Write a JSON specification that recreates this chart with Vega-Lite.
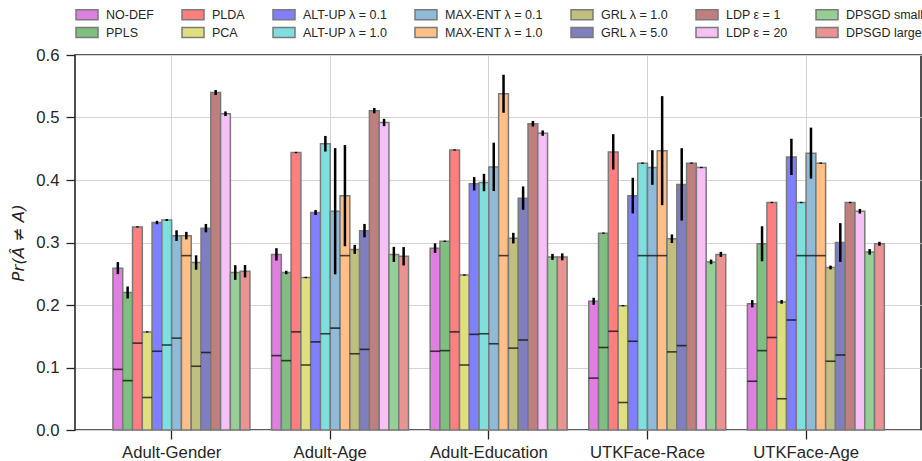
{
  "$schema": "https://vega.github.io/schema/vega-lite/v6.json",
  "width": 846,
  "height": 375,
  "autosize": {"type": "none"},
  "padding": {"left": 75, "top": 55, "right": 1, "bottom": 31},
  "background": "white",
  "data": {"values": [
    {"g":"Adult-Gender","m":"NO-DEF","v":0.259,"lo":0.2494,"hi":0.2686,"b":0.097},
    {"g":"Adult-Gender","m":"PPLS","v":0.220,"lo":0.2104,"hi":0.2296,"b":0.079},
    {"g":"Adult-Gender","m":"PLDA","v":0.325,"lo":0.324,"hi":0.326,"b":0.139},
    {"g":"Adult-Gender","m":"PCA","v":0.157,"lo":0.156,"hi":0.158,"b":0.052},
    {"g":"Adult-Gender","m":"ALT-UP λ = 0.1","v":0.332,"lo":0.3293,"hi":0.3347,"b":0.126},
    {"g":"Adult-Gender","m":"ALT-UP λ = 1.0","v":0.336,"lo":0.3345,"hi":0.3375,"b":0.136},
    {"g":"Adult-Gender","m":"MAX-ENT λ = 0.1","v":0.311,"lo":0.3025,"hi":0.3195,"b":0.147},
    {"g":"Adult-Gender","m":"MAX-ENT λ = 1.0","v":0.311,"lo":0.305,"hi":0.317,"b":0.279},
    {"g":"Adult-Gender","m":"GRL λ = 1.0","v":0.268,"lo":0.2565,"hi":0.2795,"b":0.102},
    {"g":"Adult-Gender","m":"GRL λ = 5.0","v":0.323,"lo":0.3163,"hi":0.3297,"b":0.124},
    {"g":"Adult-Gender","m":"LDP ε = 1","v":0.540,"lo":0.536,"hi":0.544,"b":null},
    {"g":"Adult-Gender","m":"LDP ε = 20","v":0.506,"lo":0.5023,"hi":0.5097,"b":null},
    {"g":"Adult-Gender","m":"DPSGD small ε","v":0.252,"lo":0.2403,"hi":0.2637,"b":null},
    {"g":"Adult-Gender","m":"DPSGD large ε","v":0.254,"lo":0.2441,"hi":0.2639,"b":null},

    {"g":"Adult-Age","m":"NO-DEF","v":0.281,"lo":0.2711,"hi":0.2909,"b":0.119},
    {"g":"Adult-Age","m":"PPLS","v":0.252,"lo":0.2493,"hi":0.2547,"b":0.111},
    {"g":"Adult-Age","m":"PLDA","v":0.444,"lo":0.443,"hi":0.445,"b":0.157},
    {"g":"Adult-Age","m":"PCA","v":0.244,"lo":0.243,"hi":0.245,"b":0.104},
    {"g":"Adult-Age","m":"ALT-UP λ = 0.1","v":0.348,"lo":0.344,"hi":0.352,"b":0.141},
    {"g":"Adult-Age","m":"ALT-UP λ = 1.0","v":0.458,"lo":0.4455,"hi":0.4705,"b":0.154},
    {"g":"Adult-Age","m":"MAX-ENT λ = 0.1","v":0.350,"lo":0.249,"hi":0.451,"b":0.163},
    {"g":"Adult-Age","m":"MAX-ENT λ = 1.0","v":0.375,"lo":0.294,"hi":0.456,"b":0.279},
    {"g":"Adult-Age","m":"GRL λ = 1.0","v":0.289,"lo":0.2818,"hi":0.2962,"b":0.122},
    {"g":"Adult-Age","m":"GRL λ = 5.0","v":0.319,"lo":0.3083,"hi":0.3297,"b":0.129},
    {"g":"Adult-Age","m":"LDP ε = 1","v":0.511,"lo":0.5067,"hi":0.5153,"b":null},
    {"g":"Adult-Age","m":"LDP ε = 20","v":0.492,"lo":0.4861,"hi":0.4979,"b":null},
    {"g":"Adult-Age","m":"DPSGD small ε","v":0.281,"lo":0.269,"hi":0.293,"b":null},
    {"g":"Adult-Age","m":"DPSGD large ε","v":0.278,"lo":0.2633,"hi":0.2927,"b":null},

    {"g":"Adult-Education","m":"NO-DEF","v":0.291,"lo":0.2833,"hi":0.2987,"b":0.126},
    {"g":"Adult-Education","m":"PPLS","v":0.302,"lo":0.301,"hi":0.303,"b":0.127},
    {"g":"Adult-Education","m":"PLDA","v":0.448,"lo":0.447,"hi":0.449,"b":0.157},
    {"g":"Adult-Education","m":"PCA","v":0.248,"lo":0.247,"hi":0.249,"b":0.104},
    {"g":"Adult-Education","m":"ALT-UP λ = 0.1","v":0.394,"lo":0.3833,"hi":0.4047,"b":0.153},
    {"g":"Adult-Education","m":"ALT-UP λ = 1.0","v":0.396,"lo":0.3821,"hi":0.4099,"b":0.154},
    {"g":"Adult-Education","m":"MAX-ENT λ = 0.1","v":0.421,"lo":0.3823,"hi":0.4597,"b":0.138},
    {"g":"Adult-Education","m":"MAX-ENT λ = 1.0","v":0.538,"lo":0.5076,"hi":0.5684,"b":0.279},
    {"g":"Adult-Education","m":"GRL λ = 1.0","v":0.307,"lo":0.2985,"hi":0.3155,"b":0.131},
    {"g":"Adult-Education","m":"GRL λ = 5.0","v":0.371,"lo":0.3523,"hi":0.3897,"b":0.144},
    {"g":"Adult-Education","m":"LDP ε = 1","v":0.490,"lo":0.4855,"hi":0.4945,"b":null},
    {"g":"Adult-Education","m":"LDP ε = 20","v":0.475,"lo":0.4707,"hi":0.4793,"b":null},
    {"g":"Adult-Education","m":"DPSGD small ε","v":0.277,"lo":0.2722,"hi":0.2818,"b":null},
    {"g":"Adult-Education","m":"DPSGD large ε","v":0.277,"lo":0.2714,"hi":0.2826,"b":null},

    {"g":"UTKFace-Race","m":"NO-DEF","v":0.206,"lo":0.2004,"hi":0.2116,"b":0.083},
    {"g":"UTKFace-Race","m":"PPLS","v":0.315,"lo":0.314,"hi":0.316,"b":0.132},
    {"g":"UTKFace-Race","m":"PLDA","v":0.445,"lo":0.4167,"hi":0.4733,"b":0.158},
    {"g":"UTKFace-Race","m":"PCA","v":0.199,"lo":0.198,"hi":0.200,"b":0.044},
    {"g":"UTKFace-Race","m":"ALT-UP λ = 0.1","v":0.375,"lo":0.3465,"hi":0.4035,"b":0.142},
    {"g":"UTKFace-Race","m":"ALT-UP λ = 1.0","v":0.427,"lo":0.426,"hi":0.428,"b":0.279},
    {"g":"UTKFace-Race","m":"MAX-ENT λ = 0.1","v":0.420,"lo":0.3923,"hi":0.4477,"b":0.279},
    {"g":"UTKFace-Race","m":"MAX-ENT λ = 1.0","v":0.447,"lo":0.3598,"hi":0.5342,"b":0.279},
    {"g":"UTKFace-Race","m":"GRL λ = 1.0","v":0.306,"lo":0.2991,"hi":0.3129,"b":0.125},
    {"g":"UTKFace-Race","m":"GRL λ = 5.0","v":0.393,"lo":0.3351,"hi":0.4509,"b":0.135},
    {"g":"UTKFace-Race","m":"LDP ε = 1","v":0.427,"lo":0.426,"hi":0.428,"b":null},
    {"g":"UTKFace-Race","m":"LDP ε = 20","v":0.420,"lo":0.419,"hi":0.421,"b":null},
    {"g":"UTKFace-Race","m":"DPSGD small ε","v":0.269,"lo":0.2653,"hi":0.2727,"b":null},
    {"g":"UTKFace-Race","m":"DPSGD large ε","v":0.281,"lo":0.277,"hi":0.285,"b":null},

    {"g":"UTKFace-Age","m":"NO-DEF","v":0.202,"lo":0.1961,"hi":0.2079,"b":0.078},
    {"g":"UTKFace-Age","m":"PPLS","v":0.298,"lo":0.270,"hi":0.326,"b":0.127},
    {"g":"UTKFace-Age","m":"PLDA","v":0.364,"lo":0.363,"hi":0.365,"b":0.148},
    {"g":"UTKFace-Age","m":"PCA","v":0.205,"lo":0.202,"hi":0.208,"b":0.050},
    {"g":"UTKFace-Age","m":"ALT-UP λ = 0.1","v":0.437,"lo":0.408,"hi":0.466,"b":0.176},
    {"g":"UTKFace-Age","m":"ALT-UP λ = 1.0","v":0.364,"lo":0.363,"hi":0.365,"b":0.279},
    {"g":"UTKFace-Age","m":"MAX-ENT λ = 0.1","v":0.443,"lo":0.4022,"hi":0.4838,"b":0.279},
    {"g":"UTKFace-Age","m":"MAX-ENT λ = 1.0","v":0.427,"lo":0.426,"hi":0.428,"b":0.279},
    {"g":"UTKFace-Age","m":"GRL λ = 1.0","v":0.260,"lo":0.257,"hi":0.263,"b":0.110},
    {"g":"UTKFace-Age","m":"GRL λ = 5.0","v":0.300,"lo":0.269,"hi":0.331,"b":0.120},
    {"g":"UTKFace-Age","m":"LDP ε = 1","v":0.364,"lo":0.363,"hi":0.365,"b":null},
    {"g":"UTKFace-Age","m":"LDP ε = 20","v":0.350,"lo":0.3463,"hi":0.3537,"b":null},
    {"g":"UTKFace-Age","m":"DPSGD small ε","v":0.285,"lo":0.2805,"hi":0.2895,"b":null},
    {"g":"UTKFace-Age","m":"DPSGD large ε","v":0.298,"lo":0.2948,"hi":0.3012,"b":null}
  ]},
  "config": {
    "view": {"stroke": "#262626", "strokeWidth": 1.6},
    "font": "Liberation Sans",
    "axis": {
      "labelFont": "Liberation Sans",
      "labelFontSize": 16.7,
      "labelColor": "#262626",
      "tickColor": "#262626",
      "tickSize": 9,
      "tickWidth": 1.3,
      "gridColor": "#d4d4d4",
      "gridWidth": 1,
      "domain": false
    }
  },
  "encoding": {
    "x": {
      "field": "g",
      "type": "nominal",
      "sort": ["Adult-Gender", "Adult-Age", "Adult-Education", "UTKFace-Race", "UTKFace-Age"],
      "scale": {"paddingInner": 0.013, "paddingOuter": 0.1735, "align": 0.334},
      "axis": {"title": null, "labelAngle": 0, "grid": true, "labelPadding": 5, "bandPosition": 0.5}
    },
    "xOffset": {
      "field": "m",
      "type": "nominal",
      "scale": {
        "domain": ["_p1", "_p2", "NO-DEF", "PPLS", "PLDA", "PCA", "ALT-UP λ = 0.1", "ALT-UP λ = 1.0", "MAX-ENT λ = 0.1", "MAX-ENT λ = 1.0", "GRL λ = 1.0", "GRL λ = 5.0", "LDP ε = 1", "LDP ε = 20", "DPSGD small ε", "DPSGD large ε"],
        "paddingInner": 0,
        "paddingOuter": 0
      }
    }
  },
  "layer": [
    {
      "mark": {"type": "bar", "stroke": "#7a7a7a", "strokeWidth": 1.5},
      "encoding": {
        "y": {
          "field": "v",
          "type": "quantitative",
          "title": "Pr(Â ≠ A)",
          "scale": {"domain": [0, 0.6], "nice": false, "zero": true},
          "axis": {
            "values": [0, 0.1, 0.2, 0.3, 0.4, 0.5, 0.6],
            "format": ".1f",
            "grid": true,
            "labelPadding": 7,
            "titleFont": "DejaVu Sans",
            "titleFontStyle": "italic",
            "titleFontWeight": "normal",
            "titleFontSize": 16.7,
            "titleColor": "#262626",
            "titlePadding": 8
          }
        },
        "color": {
          "field": "m",
          "type": "nominal",
          "scale": {
            "domain": ["NO-DEF", "PPLS", "PLDA", "PCA", "ALT-UP λ = 0.1", "ALT-UP λ = 1.0", "MAX-ENT λ = 0.1", "MAX-ENT λ = 1.0", "GRL λ = 1.0", "GRL λ = 5.0", "LDP ε = 1", "LDP ε = 20", "DPSGD small ε", "DPSGD large ε"],
            "range": ["#df7fdf", "#7fbf7f", "#ff7f7f", "#dfdf7f", "#7f7fff", "#7fdfdf", "#8fbbd9", "#ffbf86", "#bfbf7f", "#7f7fbf", "#bf7f7f", "#f6c0f6", "#95cf95", "#ea9393"]
          },
          "legend": {
            "orient": "none",
            "legendX": 5.5,
            "legendY": -47,
            "columns": 7,
            "title": null,
            "symbolType": "M-2,-0.9H2V0.9H-2Z",
            "symbolSize": 121,
            "symbolStrokeColor": "#7a7a7a",
            "symbolStrokeWidth": 1.5,
            "symbolOpacity": 1,
            "labelFont": "Liberation Sans",
            "labelFontSize": 12.5,
            "labelColor": "#262626",
            "labelOffset": 12.5,
            "labelLimit": 300,
            "columnPadding": 24,
            "rowPadding": 1,
            "padding": 0
          }
        }
      }
    },
    {
      "mark": {"type": "rule", "color": "black", "strokeWidth": 2.5},
      "encoding": {
        "y": {"field": "lo", "type": "quantitative", "title": "Pr(Â ≠ A)"},
        "y2": {"field": "hi"}
      }
    },
    {
      "mark": {"type": "tick", "orient": "horizontal", "color": "black", "thickness": 1.6, "size": 9.8},
      "encoding": {
        "y": {"field": "b", "type": "quantitative", "title": "Pr(Â ≠ A)"}
      }
    }
  ]
}
